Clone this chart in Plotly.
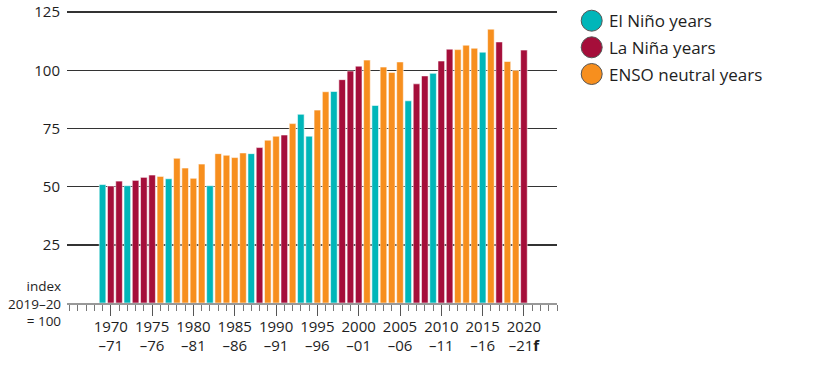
import plotly.graph_objects as go

years = list(range(1969, 2021))
types = ["N", "L", "L", "N", "L", "L", "L", "E", "N", "E",
         "E", "E", "E", "N", "E", "E", "E", "E", "N", "L",
         "E", "E", "L", "E", "N", "N", "E", "E", "N", "L",
         "L", "L", "E", "N", "E", "E", "E", "N", "L", "L",
         "N", "L", "L", "E", "E", "E", "N", "E", "L", "E",
         "E", "L"]
values = [50.9, 50.3, 52.4, 50.4, 52.7, 54.0, 55.0, 54.4, 53.4, 62.2,
          58.0, 53.6, 59.7, 50.4, 64.2, 63.5, 62.5, 64.5, 64.2, 66.8,
          70.0, 71.7, 72.2, 77.1, 81.1, 71.7, 82.9, 90.8, 90.9, 96.0,
          99.7, 101.8, 104.4, 84.9, 101.4, 99.1, 103.6, 86.9, 94.2, 97.6,
          98.7, 104.0, 109.1, 108.9, 110.8, 109.5, 107.8, 117.7, 112.2, 103.8,
          100.0, 108.7]

series_names = {"N": "El Niño years", "L": "La Niña years", "E": "ENSO neutral years"}
series_colors = {"N": "#00B6B9", "L": "#A50E3A", "E": "#F78F1E"}

tick_years = list(range(1970, 2021, 5))
tick_labels = ["1970<br>–71", "1975<br>–76", "1980<br>–81", "1985<br>–86", "1990<br>–91",
               "1995<br>–96", "2000<br>–01", "2005<br>–06", "2010<br>–11", "2015<br>–16",
               "2020<br>–21<b>f</b>"]
y_ticks = [25, 50, 75, 100, 125]

FONT = "Open Sans, Noto Sans, sans-serif"
TXT = "#1e1e1e"

FIG_W, FIG_H = 816, 366

fig = go.Figure()
for key in ["N", "L", "E"]:
    xs = [y for y, t in zip(years, types) if t == key]
    vs = [v for v, t in zip(values, types) if t == key]
    fig.add_trace(go.Bar(
        x=xs, y=vs, name=series_names[key], width=0.8,
        marker=dict(color=series_colors[key],
                    line=dict(color="rgba(255,255,255,0.55)", width=1)),
        showlegend=False, hoverinfo="skip",
    ))

L_PLOT, R_PLOT, T_PLOT, B_PLOT = 67, 557, 11, 303
W = R_PLOT - L_PLOT
H = B_PLOT - T_PLOT
legend_y_px = [20.7, 47.3, 74.0]
shapes = []
annotations = []
for key, ypx in zip(["N", "L", "E"], legend_y_px):
    yp = (B_PLOT - ypx) / H
    shapes.append(dict(type="circle", xref="paper", yref="paper",
                       xsizemode="pixel", ysizemode="pixel",
                       xanchor=(591.7 - L_PLOT) / W, yanchor=yp,
                       x0=-10.5, x1=10.5, y0=-10.5, y1=10.5,
                       fillcolor=series_colors[key],
                       line=dict(color="#555555", width=1)))
    annotations.append(dict(xref="paper", yref="paper", x=(607 - L_PLOT) / W, y=yp,
                            xanchor="left", yanchor="middle", showarrow=False,
                            text=series_names[key],
                            font=dict(family=FONT, size=17, color=TXT)))

annotations.append(dict(xref="paper", yref="y", x=0, y=0, xshift=-4, yshift=0,
                        xanchor="right", yanchor="middle", showarrow=False, align="right",
                        text="index<br>2019–20<br>= 100",
                        font=dict(family=FONT, size=13.5, color=TXT)))

fig.update_layout(
    width=FIG_W, height=FIG_H,
    margin=dict(l=L_PLOT, r=FIG_W - R_PLOT, t=T_PLOT, b=FIG_H - B_PLOT, autoexpand=False),
    paper_bgcolor="white", plot_bgcolor="white",
    barmode="overlay",
    showlegend=False,
    hovermode=False,
    shapes=shapes,
    annotations=annotations,
    font=dict(family=FONT, color=TXT),
    xaxis=dict(
        range=[1964.7, 2024.0], automargin=False,
        tickmode="array", tickvals=tick_years, ticktext=tick_labels,
        ticks="outside", ticklen=11, tickcolor="#555555", tickwidth=1,
        minor=dict(tickmode="linear", tick0=1969, dtick=1, ticks="outside",
                   ticklen=6, tickcolor="#777777", tickwidth=1, showgrid=False),
        showgrid=False, zeroline=False,
        showline=True, linecolor="#999999", linewidth=1.5,
        tickfont=dict(family=FONT, size=15, color=TXT),
        ticklabeloverflow="allow", ticklabelstandoff=-2,
        fixedrange=True,
    ),
    yaxis=dict(
        range=[0, 125.5], automargin=False,
        tickmode="array", tickvals=y_ticks,
        showgrid=True, gridcolor="#333333", gridwidth=1.5,
        zeroline=False, showline=False, ticks="",
        ticklabelstandoff=6, ticklabeloverflow="allow",
        tickfont=dict(family=FONT, size=15, color=TXT),
        fixedrange=True,
    ),
)

fig.write_html("out.html", config={"displayModeBar": False, "staticPlot": True},
               post_script="document.body.style.margin='0';")
